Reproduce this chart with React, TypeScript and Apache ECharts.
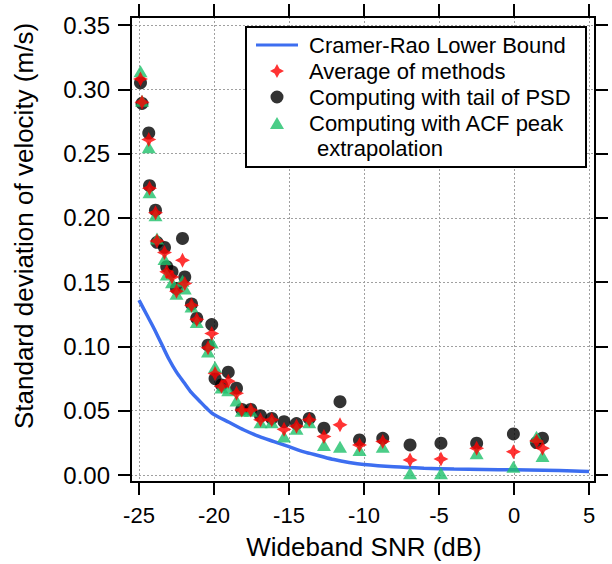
import React, { useEffect, useRef } from 'react';
import * as echarts from 'echarts';

const FONT = '"Liberation Sans", Arial, Helvetica, sans-serif';

// Wideband SNR (dB) of each measurement
const snr = [
  -24.9, -24.8, -24.35, -24.3, -23.9, -23.8, -23.3, -23.15, -22.8, -22.5, -22.1, -21.95,
  -21.5, -21.15, -20.4, -20.15, -19.93, -19.5, -19.05, -18.5, -18.15, -17.55, -16.9, -16.15,
  -15.33, -14.5, -13.65, -12.67, -11.6, -10.3, -8.75, -6.93, -4.87, -2.49, -0.04, 1.5, 1.9,
];
// Computing with tail of PSD (black circles)
const tailPSD = [
  0.305, 0.289, 0.266, 0.225, 0.206, 0.181, 0.177, 0.162, 0.158, 0.145, 0.184, 0.154,
  0.133, 0.122, 0.101, 0.117, 0.075, 0.07, 0.08, 0.0675, 0.051, 0.051, 0.046, 0.044,
  0.0415, 0.04, 0.044, 0.0364, 0.057, 0.0273, 0.0285, 0.0234, 0.0247, 0.0247, 0.0319, 0.0252, 0.0286,
];
// Average of methods (red stars)
const average = [
  0.308, 0.29, 0.261, 0.223, 0.204, 0.182, 0.173, 0.158, 0.154, 0.143, 0.167, 0.149,
  0.132, 0.121, 0.099, 0.11, 0.079, 0.069, 0.073, 0.0636, 0.0506, 0.0506, 0.043, 0.043,
  0.0355, 0.038, 0.043, 0.03, 0.039, 0.0234, 0.026, 0.0117, 0.0125, 0.0208, 0.0181, 0.0265, 0.0208,
];
// Computing with ACF peak extrapolation (green triangles)
const acfPeak = [
  0.314, 0.291, 0.255, 0.22, 0.202, 0.184, 0.168, 0.156, 0.15, 0.141, 0.151, 0.145,
  0.131, 0.119, 0.096, 0.103, 0.084, 0.068, 0.066, 0.058, 0.05, 0.05, 0.041, 0.041,
  0.03, 0.036, 0.041, 0.0234, 0.022, 0.0195, 0.022, 0.0013, 0.0013, 0.0169, 0.0065, 0.0298, 0.0148,
];
// Cramer-Rao Lower Bound curve samples
const crlbX = [-25, -24.5, -24, -23.5, -23, -22.5, -22, -21.5, -21, -20.5, -20, -19, -18, -17, -16, -15, -14, -13, -12, -11, -10, -8, -6, -4, -2, 0, 2, 4, 5];
const crlbY = [0.136, 0.125, 0.114, 0.102, 0.09, 0.08, 0.072, 0.064, 0.058, 0.052, 0.047, 0.041, 0.035, 0.03, 0.026, 0.022, 0.018, 0.015, 0.012, 0.0098, 0.0082, 0.0064, 0.0053, 0.0046, 0.0043, 0.004, 0.0037, 0.0031, 0.0027];

const xTicks = { min: -25, max: 5, step: 5 };
const yTicks = { min: 0, max: 0.35, step: 0.05 };

const NAME_CRLB = 'Cramer-Rao Lower Bound';
const NAME_AVG = 'Average of methods';
const NAME_PSD = 'Computing with tail of PSD';
const NAME_ACF = 'Computing with ACF peak extrapolation';

const STAR = 'path://M0,-10 L3.4,-3.4 L10,0 L3.4,3.4 L0,10 L-3.4,3.4 L-10,0 L-3.4,-3.4 Z';

// legend icons drawn inside a 42x14 box (the tiny closed corners fix the box)
const BOX = 'M0,0 L0.01,0 Z M42,14 L41.99,14 Z ';
const ICON_LINE = 'path://' + BOX + 'M0,5.5 L42,5.5 L42,8.5 L0,8.5 Z';
const ICON_STAR = 'path://' + BOX + 'M21,0 L23.4,4.6 L28,7 L23.4,9.4 L21,14 L18.6,9.4 L14,7 L18.6,4.6 Z';
const ICON_CIRCLE = 'path://' + BOX + 'M14.5,7 A6.5,6.5 0 1 1 27.5,7 A6.5,6.5 0 1 1 14.5,7 Z';
const ICON_TRI = 'path://' + BOX + 'M21,1 L28,13 L14,13 Z';

const FRAME = { l: 131, t: 17, r: 595, b: 482 };
const PLOT = { l: 139, t: 25, r: 589, b: 475 };

function buildOption() {
  const xs = (xTicks.max - xTicks.min) / (PLOT.r - PLOT.l);
  const ys = (yTicks.max - yTicks.min) / (PLOT.b - PLOT.t);
  const tickStyle = { show: true, inside: false, length: 13, lineStyle: { color: '#000', width: 2 } };
  const zip = (a: number[], b: number[]) => a.map((v, i) => [v, b[i]]);
  const gridLine = { show: true, lineStyle: { color: '#a0a0a0', width: 1, type: [2, 2] } };
  return {
    animation: false,
    backgroundColor: '#fff',
    textStyle: { fontFamily: FONT },
    grid: [
      { left: FRAME.l, top: FRAME.t, width: FRAME.r - FRAME.l, height: FRAME.b - FRAME.t, outerBoundsMode: 'none', containLabel: false },
      { left: PLOT.l, top: PLOT.t, width: PLOT.r - PLOT.l, height: PLOT.b - PLOT.t, outerBoundsMode: 'none', containLabel: false },
    ],
    xAxis: [
      {
        gridIndex: 0, type: 'value',
        min: xTicks.min - (PLOT.l - FRAME.l) * xs, max: xTicks.max + (FRAME.r - PLOT.r) * xs,
        splitNumber: 6,
        axisLine: { show: false, onZero: false }, axisTick: { show: false }, axisLabel: { show: false },
        splitLine: gridLine,
      },
      {
        gridIndex: 1, type: 'value', position: 'bottom', offset: FRAME.b - PLOT.b,
        min: xTicks.min, max: xTicks.max, interval: xTicks.step,
        axisLine: { show: false, onZero: false }, axisTick: tickStyle,
        axisLabel: { show: true, margin: 22, fontFamily: FONT, fontSize: 22, color: '#000' },
        splitLine: { show: false },
        name: 'Wideband SNR (dB)', nameLocation: 'middle', nameGap: 52,
        nameTextStyle: { fontFamily: FONT, fontSize: 26, color: '#000' },
      },
      {
        gridIndex: 1, type: 'value', position: 'top', offset: PLOT.t - FRAME.t,
        min: xTicks.min, max: xTicks.max, interval: xTicks.step,
        axisLine: { show: false, onZero: false }, axisTick: tickStyle,
        axisLabel: { show: false }, splitLine: { show: false },
      },
    ],
    yAxis: [
      {
        gridIndex: 0, type: 'value',
        min: yTicks.min - (FRAME.b - PLOT.b) * ys, max: yTicks.max + (PLOT.t - FRAME.t) * ys,
        splitNumber: 7,
        axisLine: { show: false, onZero: false }, axisTick: { show: false }, axisLabel: { show: false },
        splitLine: gridLine,
      },
      {
        gridIndex: 1, type: 'value', position: 'left', offset: PLOT.l - FRAME.l,
        min: yTicks.min, max: yTicks.max, interval: yTicks.step,
        axisLine: { show: false, onZero: false }, axisTick: tickStyle,
        axisLabel: { show: true, margin: 21, formatter: (v: number) => v.toFixed(2), fontFamily: FONT, fontSize: 24, color: '#000' },
        splitLine: { show: false },
      },
      {
        gridIndex: 1, type: 'value', position: 'right', offset: FRAME.r - PLOT.r,
        min: yTicks.min, max: yTicks.max, interval: yTicks.step,
        axisLine: { show: false, onZero: false }, axisTick: tickStyle,
        axisLabel: { show: false }, splitLine: { show: false },
      },
    ],
    legend: {
      orient: 'vertical', left: 256, top: 34, padding: 0, itemGap: 4,
      itemWidth: 42, itemHeight: 14, selectedMode: false,
      data: [
        { name: NAME_CRLB, icon: ICON_LINE },
        { name: NAME_AVG, icon: ICON_STAR },
        { name: NAME_PSD, icon: ICON_CIRCLE },
        { name: NAME_ACF, icon: ICON_TRI },
      ],
      formatter: (n: string) => (n === NAME_ACF ? 'Computing with ACF peak' : n),
      textStyle: { fontFamily: FONT, fontSize: 22, color: '#000', lineHeight: 22, padding: [0, 0, 0, 6] },
      z: 6,
    },
    graphic: [
      { type: 'rect', z: 3, shape: { x: 246, y: 27, width: 340, height: 140 }, style: { fill: '#fff', stroke: '#000', lineWidth: 2 } },
      { type: 'text', z: 7, x: 317, y: 148, style: { text: 'extrapolation', fontFamily: FONT, fontSize: 22, fill: '#000', verticalAlign: 'middle' } },
      {
        type: 'text', z: 7, x: 24, y: 226, rotation: Math.PI / 2,
        style: { text: 'Standard deviation of velocity (m/s)', fontFamily: FONT, fontSize: 26, fill: '#000', align: 'center', verticalAlign: 'middle' },
      },
      { type: 'rect', z: 10, shape: { x: FRAME.l, y: FRAME.t, width: FRAME.r - FRAME.l, height: FRAME.b - FRAME.t }, style: { fill: 'none', stroke: '#000', lineWidth: 2 } },
    ],
    series: [
      {
        name: NAME_CRLB, type: 'line', xAxisIndex: 1, yAxisIndex: 1,
        data: zip(crlbX, crlbY), smooth: 0.3, symbol: 'none', showSymbol: false,
        lineStyle: { color: '#3d6ef0', width: 3.5 }, itemStyle: { color: '#3d6ef0' }, z: 2,
      },
      {
        name: NAME_AVG, type: 'scatter', xAxisIndex: 1, yAxisIndex: 1,
        data: zip(snr, average), symbol: STAR, symbolSize: 15, symbolKeepAspect: true,
        itemStyle: { color: '#ff0000' }, z: 5,
      },
      {
        name: NAME_PSD, type: 'scatter', xAxisIndex: 1, yAxisIndex: 1,
        data: zip(snr, tailPSD), symbol: 'circle', symbolSize: 13,
        itemStyle: { color: '#000000' }, z: 3,
      },
      {
        name: NAME_ACF, type: 'scatter', xAxisIndex: 1, yAxisIndex: 1,
        data: zip(snr, acfPeak), symbol: 'triangle', symbolSize: [14, 12],
        itemStyle: { color: '#1ec06a' }, z: 4,
      },
    ],
  };
}

export default function App() {
  const ref = useRef<HTMLDivElement>(null);
  useEffect(() => {
    if (!ref.current) return;
    const chart = echarts.init(ref.current, null, { renderer: 'svg', width: 612, height: 564 });
    chart.setOption(buildOption() as any);
    return () => chart.dispose();
  }, []);
  return (
    <div
      ref={ref}
      style={{ position: 'fixed', left: 0, top: 0, width: 612, height: 564, background: '#fff' }}
    />
  );
}
